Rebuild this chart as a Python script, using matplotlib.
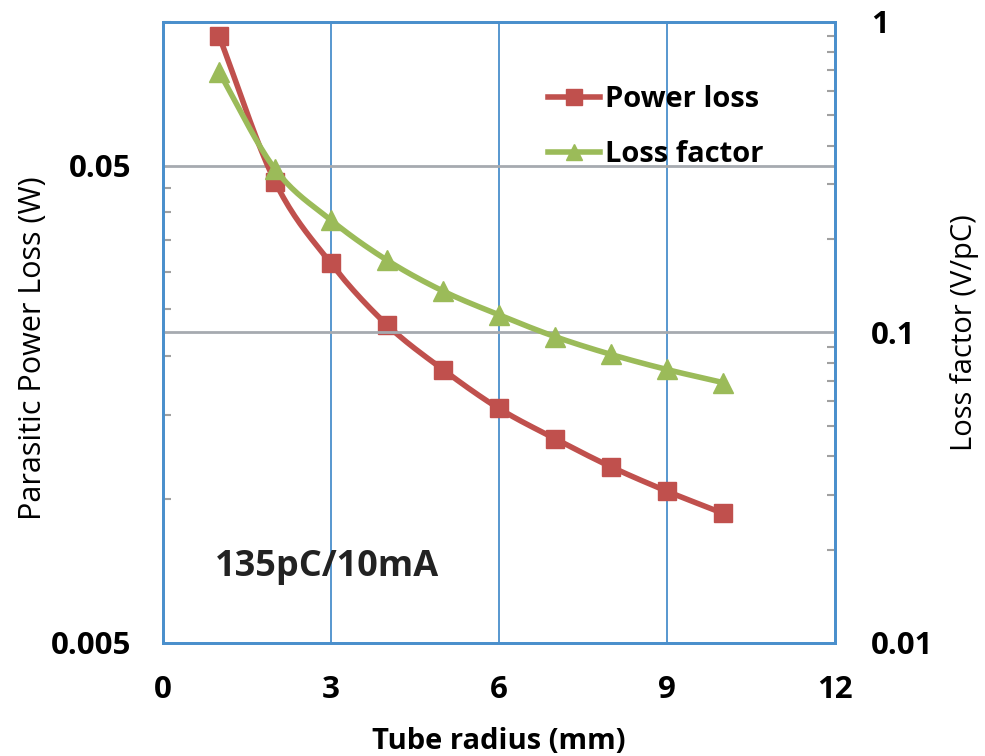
import numpy as np
import matplotlib
matplotlib.use("Agg")
import matplotlib.pyplot as plt
from matplotlib.ticker import FixedLocator, NullFormatter

plt.rcParams['font.family'] = ['Open Sans', 'DejaVu Sans']

radius = [1, 2, 3, 4, 5, 6, 7, 8, 9, 10]
power_loss = [0.0935, 0.0463, 0.0312, 0.0232, 0.0187, 0.0155, 0.0134, 0.0117, 0.0104, 0.00935]
loss_factor = [0.69, 0.336, 0.23, 0.171, 0.136, 0.114, 0.097, 0.085, 0.076, 0.069]

x_ticks = [0, 3, 6, 9, 12]
left_ticks = [0.005, 0.05]
right_ticks = [0.01, 0.1, 1]

RED = '#c0504d'
GREEN = '#9bbb59'
BLUE = '#4a8fcc'
GRID_GRAY = '#a6aab0'


def smooth(x, y, n=20):
    # catmull-rom through the points, done in log space for the log axes
    x = np.asarray(x, float)
    y = np.log10(np.asarray(y, float))
    px = np.concatenate([[2 * x[0] - x[1]], x, [2 * x[-1] - x[-2]]])
    py = np.concatenate([[2 * y[0] - y[1]], y, [2 * y[-1] - y[-2]]])
    xs, ys = [], []
    t = np.linspace(0, 1, n, endpoint=False)
    for i in range(1, len(px) - 2):
        for p, out in ((px, xs), (py, ys)):
            p0, p1, p2, p3 = p[i - 1], p[i], p[i + 1], p[i + 2]
            out.extend(0.5 * (2 * p1 + (-p0 + p2) * t
                              + (2 * p0 - 5 * p1 + 4 * p2 - p3) * t ** 2
                              + (-p0 + 3 * p1 - 3 * p2 + p3) * t ** 3))
    xs.append(x[-1])
    ys.append(y[-1])
    return np.array(xs), 10 ** np.array(ys)


fig = plt.figure(figsize=(9.85, 7.56), dpi=100)
ax = fig.add_axes([0.1655, 0.1495, 0.682, 0.8214])
ax2 = ax.twinx()

ax.set_xlim(0, 12)
ax.set_yscale('log')
ax.set_ylim(0.005, 0.1)
ax2.set_yscale('log')
ax2.set_ylim(0.01, 1)

# grid lines
for xv in x_ticks[1:-1]:
    ax.axvline(xv, color=BLUE, lw=1.3, zorder=1)
ax.axhline(0.05, color=GRID_GRAY, lw=2, zorder=1)
ax2.axhline(0.1, color=GRID_GRAY, lw=2, zorder=1)

LW = 4
sx, sy = smooth(radius, power_loss)
ax.plot(sx, sy, color=RED, lw=LW, zorder=3)
ax.plot(radius, power_loss, color=RED, marker='s', ms=13, ls='none', zorder=4)
sx, sy = smooth(radius, loss_factor)
ax2.plot(sx, sy, color=GREEN, lw=LW, zorder=3)
ax2.plot(radius, loss_factor, color=GREEN, marker='^', ms=14, ls='none', zorder=4)

h1 = plt.Line2D([], [], color=RED, lw=LW, marker='s', ms=11)
h2 = plt.Line2D([], [], color=GREEN, lw=LW, marker='^', ms=12)
ax2.legend([h1, h2], ['Power loss', 'Loss factor'], loc='upper left',
           bbox_to_anchor=(0.573, 0.899), frameon=False, handlelength=1.8,
           handletextpad=0.15, labelspacing=0.9, borderpad=0,
           borderaxespad=0, prop={'size': 21, 'weight': 'bold'})

ax.text(0.93, 0.0072, '135pC/10mA', fontsize=26, weight='bold',
        color='#222222', va='center', ha='left')

# ticks
tick_font = {'size': 22.5, 'weight': 'bold'}
ax.set_xticks(x_ticks)
ax.set_xticklabels([str(v) for v in x_ticks], fontdict=tick_font)
ax.yaxis.set_major_locator(FixedLocator(left_ticks))
ax.set_yticklabels(['0.005', '0.05'], fontdict=tick_font)
left_minor = [round(0.005 * k, 3) for k in range(2, 10)] + [0.1]
ax.yaxis.set_minor_locator(FixedLocator(left_minor))
ax.yaxis.set_minor_formatter(NullFormatter())
ax2.yaxis.set_major_locator(FixedLocator(right_ticks))
ax2.set_yticklabels(['0.01', '0.1', '1'], fontdict=tick_font)
right_minor = [k * 0.01 for k in range(2, 10)] + [k * 0.1 for k in range(2, 10)]
ax2.yaxis.set_minor_locator(FixedLocator(right_minor))
ax2.yaxis.set_minor_formatter(NullFormatter())

ax.tick_params(axis='x', length=0, pad=23)
ax.tick_params(axis='y', which='major', length=0, pad=23)
ax.tick_params(axis='y', which='minor', direction='in', length=6,
               width=1.5, color='#a0a0a0')
ax2.tick_params(axis='y', which='major', length=0, pad=26)
ax2.tick_params(axis='y', which='minor', direction='in', length=6,
                width=1.5, color='#a0a0a0')

for a in (ax, ax2):
    for s in a.spines.values():
        s.set_color(BLUE)
        s.set_linewidth(2)

ax.set_xlabel('Tube radius (mm)', fontsize=21, weight='bold', labelpad=16)
ax.set_ylabel('Parasitic Power Loss (W)', fontsize=22, labelpad=2, y=0.475)
ax2.set_ylabel('Loss factor (V/pC)', fontsize=21, labelpad=12)

fig.savefig('out.png', dpi=100)
